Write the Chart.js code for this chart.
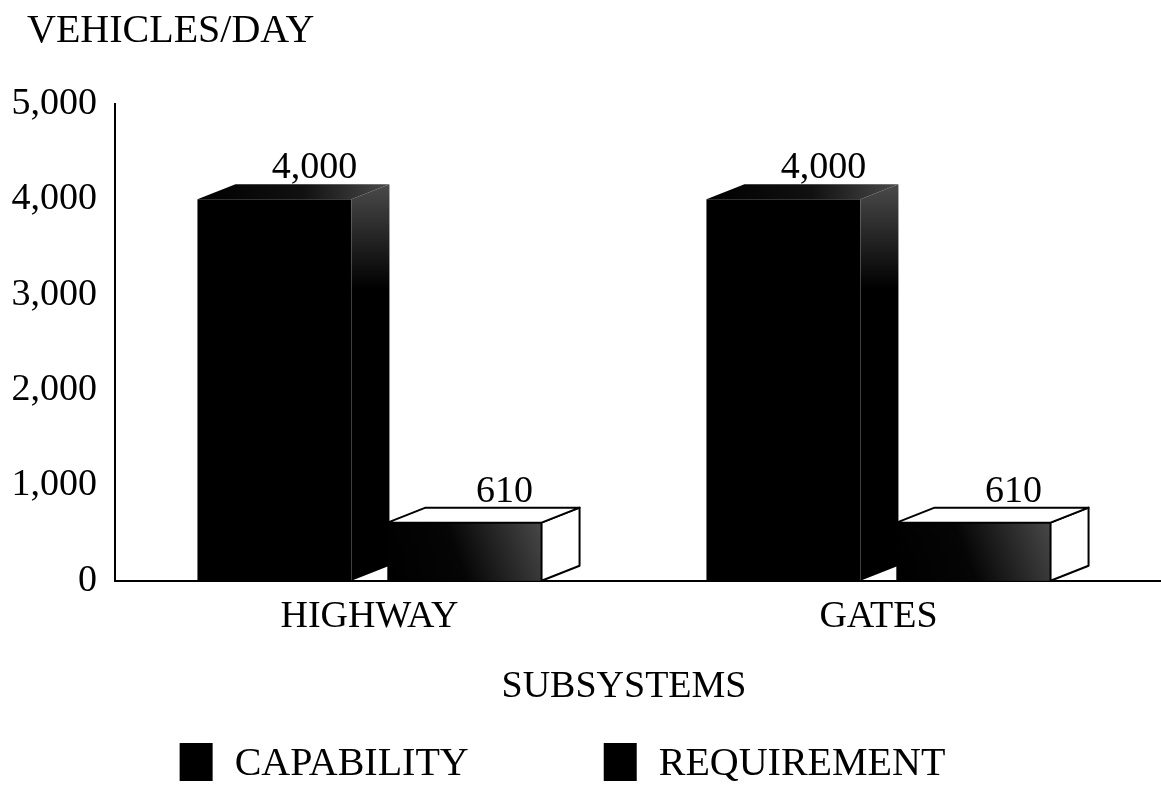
<!DOCTYPE html>
<html>
<head>
<meta charset="utf-8">
<script src="https://cdn.jsdelivr.net/npm/chart.js@4.4.0/dist/chart.umd.min.js"></script>
<style>
  html, body { margin: 0; padding: 0; background: #fff; }
  #wrap { width: 1161px; height: 788px; }
</style>
</head>
<body>
<div id="wrap"><canvas id="chartCanvas"></canvas></div>
<script>
const categories = ["HIGHWAY", "GATES"];
const capability = [4000, 4000];
const requirement = [610, 610];
const yTicks = [0, 1000, 2000, 3000, 4000, 5000];

const serif = "'Liberation Serif', 'Times New Roman', serif";
const fmt = v => v.toLocaleString("en-US");

// fake 3d: side + top faces pushed back by this much
const DX = 38, DY = -15;

function poly(ctx, pts) {
  ctx.beginPath();
  ctx.moveTo(pts[0][0], pts[0][1]);
  for (let k = 1; k < pts.length; k++) ctx.lineTo(pts[k][0], pts[k][1]);
  ctx.closePath();
}

const boxes3d = {
  id: "boxes3d",
  afterDatasetsDraw(chart) {
    const ctx = chart.ctx;
    ctx.save();
    chart.data.datasets.forEach((ds, i) => {
      const meta = chart.getDatasetMeta(i);
      meta.data.forEach((bar, j) => {
        const l = bar.x - bar.width / 2, r = bar.x + bar.width / 2;
        const t = bar.y, b = bar.base;
        const side = [[r, t], [r + DX, t + DY], [r + DX, b + DY], [r, b]];
        const top = [[l, t], [l + DX, t + DY], [r + DX, t + DY], [r, t]];

        if (ds.faces === "open") {
          // front face: black going grey toward the top right
          let g = ctx.createLinearGradient(l, b, r, t);
          g.addColorStop(0, "#000");
          g.addColorStop(0.45, "#050505");
          g.addColorStop(1, "#484848");
          ctx.fillStyle = g;
          ctx.fillRect(l, t, r - l, b - t);
          ctx.fillStyle = "#fff";
          ctx.strokeStyle = "#000";
          ctx.lineWidth = 2;
          ctx.lineJoin = "round";
          poly(ctx, side); ctx.fill(); ctx.stroke();
          poly(ctx, top); ctx.fill(); ctx.stroke();
        } else {
          let g = ctx.createLinearGradient(r, t + DY, r, t + 90);
          g.addColorStop(0, "#4a4a4a");
          g.addColorStop(1, "#000");
          ctx.fillStyle = g;
          poly(ctx, side); ctx.fill();
          g = ctx.createLinearGradient(l, t, r + DX, t);
          g.addColorStop(0, "#000");
          g.addColorStop(0.55, "#111");
          g.addColorStop(1, "#4a4a4a");
          ctx.fillStyle = g;
          poly(ctx, top); ctx.fill();
        }

        // value label above the box
        ctx.fillStyle = "#000";
        ctx.font = "38px " + serif;
        ctx.textAlign = "center";
        ctx.textBaseline = "alphabetic";
        ctx.fillText(fmt(ds.data[j]), bar.x + DX + 2, t + DY - 6);
      });
    });
    ctx.restore();
  },
  afterDraw(chart) {
    const ctx = chart.ctx;
    const area = chart.chartArea;
    const y0 = Math.round(chart.scales.y.getPixelForValue(0));
    ctx.save();
    // baseline runs on to the right edge
    ctx.strokeStyle = "#000";
    ctx.lineWidth = 2;
    ctx.beginPath();
    ctx.moveTo(area.right - 1, y0);
    ctx.lineTo(chart.width, y0);
    ctx.stroke();

    // unit label top left
    ctx.fillStyle = "#000";
    ctx.font = "40px " + serif;
    ctx.textAlign = "left";
    ctx.textBaseline = "alphabetic";
    ctx.fillText("VEHICLES/DAY", 27, 42);

    // legend
    const boxW = 33, boxH = 38, gap = 22, itemGap = 135;
    const items = chart.data.datasets.map(ds => ({ label: ds.label, w: ctx.measureText(ds.label).width }));
    const total = items.reduce((s, it) => s + boxW + gap + it.w, 0) + itemGap * (items.length - 1);
    let x = chart.width / 2 - 18 - total / 2;
    const yc = chart.height - 26;
    ctx.textBaseline = "middle";
    items.forEach(it => {
      ctx.fillRect(x, yc - boxH / 2, boxW, boxH);
      ctx.fillText(it.label, x + boxW + gap, yc + 2);
      x += boxW + gap + it.w + itemGap;
    });
    ctx.restore();
  }
};

Chart.defaults.color = "#000";
Chart.defaults.font.family = serif;

new Chart(document.getElementById("chartCanvas"), {
  type: "bar",
  data: {
    labels: categories,
    datasets: [
      { label: "CAPABILITY", data: capability, backgroundColor: "#000", faces: "solid" },
      { label: "REQUIREMENT", data: requirement, backgroundColor: "#000", faces: "open" }
    ]
  },
  options: {
    responsive: true,
    maintainAspectRatio: false,
    animation: false,
    categoryPercentage: 0.747,
    barPercentage: 0.81,
    layout: { padding: { left: 10, right: 28, top: 104, bottom: 78 } },
    plugins: {
      legend: { display: false },
      tooltip: { enabled: false },
      title: { display: false }
    },
    scales: {
      x: {
        grid: { display: false, drawTicks: false },
        border: { display: true, color: "#000", width: 2 },
        ticks: { font: { size: 38 }, padding: 13 },
        title: {
          display: true,
          text: "SUBSYSTEMS",
          font: { size: 38 },
          padding: { top: 12, bottom: 0 }
        }
      },
      y: {
        min: 0,
        max: 5000,
        afterBuildTicks: s => { s.ticks = yTicks.map(v => ({ value: v })); },
        afterFit: s => { s.width = 105; },
        grid: { display: false, drawTicks: false },
        border: { display: true, color: "#000", width: 2 },
        ticks: { font: { size: 38 }, padding: 18, callback: v => fmt(v) }
      }
    }
  },
  plugins: [boxes3d]
});
</script>
</body>
</html>
